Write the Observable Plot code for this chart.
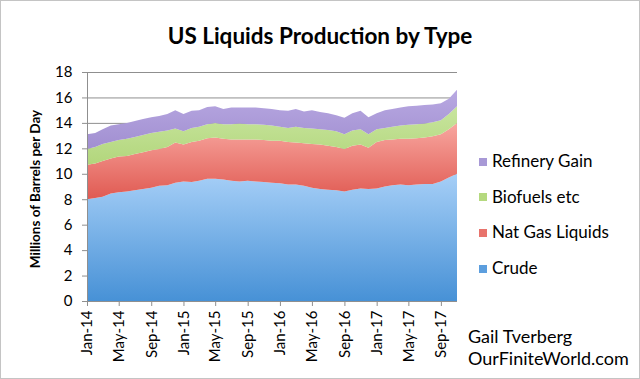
<!DOCTYPE html>
<html><head><meta charset="utf-8">
<script src="https://cdn.jsdelivr.net/npm/d3@7"></script>
<script src="https://cdn.jsdelivr.net/npm/@observablehq/plot@0.6"></script>
<style>
body{margin:0;background:#fff;}
#wrap{position:relative;width:640px;height:379px;font-family:Lato,"Open Sans",sans-serif;color:#000;overflow:hidden;background:#fff}
#frame{position:absolute;left:0;top:0;width:640px;height:379px;box-sizing:border-box;border:1px solid #c4c4c4;pointer-events:none}
#title{height:60px;line-height:60px;text-align:center;font-weight:700;font-size:22.5px;padding-top:6px;box-sizing:border-box}
#plot{position:absolute;left:0;top:60px}
#legend{position:absolute;left:479px;top:150px;font-size:17px}
.li{position:absolute;left:0;white-space:nowrap;height:22px;line-height:22px}
.sw{display:inline-block;width:8px;height:8px;margin-right:5px;vertical-align:middle;position:relative;top:-1px}
#caption{position:absolute;left:468px;top:325px;font-size:18px;line-height:22px;white-space:nowrap}
</style></head><body>
<div id="wrap">
<div id="title">US Liquids Production by Type</div>
<div id="plot"></div>
<div id="legend"></div>
<div id="caption">Gail Tverberg<br>OurFiniteWorld.com</div>
<div id="frame"></div>
</div>
<script>
const months = ["2014-01","2014-02","2014-03","2014-04","2014-05","2014-06","2014-07","2014-08","2014-09","2014-10","2014-11","2014-12",
"2015-01","2015-02","2015-03","2015-04","2015-05","2015-06","2015-07","2015-08","2015-09","2015-10","2015-11","2015-12",
"2016-01","2016-02","2016-03","2016-04","2016-05","2016-06","2016-07","2016-08","2016-09","2016-10","2016-11","2016-12",
"2017-01","2017-02","2017-03","2017-04","2017-05","2017-06","2017-07","2017-08","2017-09","2017-10","2017-11"];

const crude = [8.0,8.1,8.2,8.45,8.55,8.6,8.7,8.8,8.9,9.05,9.1,9.3,
9.4,9.35,9.45,9.6,9.6,9.55,9.45,9.4,9.45,9.4,9.35,9.3,
9.25,9.15,9.15,9.05,8.9,8.8,8.75,8.7,8.6,8.75,8.85,8.8,
8.85,9.0,9.1,9.15,9.1,9.15,9.2,9.2,9.4,9.7,10.0];
const natGasLiquids = [2.7,2.7,2.8,2.75,2.8,2.8,2.85,2.9,2.95,2.9,3.0,3.15,
2.9,3.15,3.15,3.2,3.25,3.2,3.25,3.3,3.25,3.3,3.3,3.3,
3.35,3.35,3.3,3.35,3.45,3.5,3.45,3.4,3.35,3.45,3.45,3.25,
3.65,3.65,3.6,3.6,3.65,3.65,3.65,3.75,3.7,3.8,4.0];
const biofuels = [1.25,1.3,1.35,1.3,1.3,1.35,1.35,1.35,1.35,1.35,1.3,1.1,
1.05,1.1,1.1,1.1,1.15,1.15,1.2,1.25,1.2,1.2,1.2,1.2,
1.1,1.1,1.25,1.2,1.2,1.2,1.25,1.25,1.15,1.2,1.2,1.05,
1.0,0.95,1.0,1.05,1.1,1.1,1.1,1.1,1.1,1.2,1.3];
const refineryGain = [1.15,1.1,1.15,1.3,1.25,1.25,1.25,1.25,1.25,1.25,1.3,1.45,
1.35,1.35,1.3,1.35,1.3,1.2,1.3,1.25,1.3,1.3,1.3,1.3,
1.3,1.35,1.4,1.3,1.45,1.35,1.3,1.25,1.3,1.35,1.45,1.35,
1.25,1.4,1.4,1.4,1.45,1.45,1.45,1.4,1.35,1.2,1.3];

const seriesNames = ["Crude","Nat Gas Liquids","Biofuels etc","Refinery Gain"];
const seriesValues = [crude, natGasLiquids, biofuels, refineryGain];
const tickLabels = ["Jan-14","May-14","Sep-14","Jan-15","May-15","Sep-15","Jan-16","May-16","Sep-16","Jan-17","May-17","Sep-17"];
const tickMonths = ["2014-01","2014-05","2014-09","2015-01","2015-05","2015-09","2016-01","2016-05","2016-09","2017-01","2017-05","2017-09"];
const yTicks = [0,2,4,6,8,10,12,14,16,18];
const yLabel = "Millions of Barrels per Day";

const gradStops = {
  "Crude": ["#a6cff7", "#4791d6"],
  "Nat Gas Liquids": ["#f8a7a0", "#e05a52"],
  "Biofuels etc": ["#c8e59e", "#b2d67c"],
  "Refinery Gain": ["#b9a9e2", "#a18fd1"]
};
const swatch = {"Crude":"#5c9ede","Nat Gas Liquids":"#e8736c","Biofuels etc":"#b5d97f","Refinery Gain":"#a899d6"};

const parse = d3.utcParse("%Y-%m");
const rows = [];
seriesNames.forEach((name, i) => {
  months.forEach((m, j) => rows.push({date: parse(m), type: name, value: seriesValues[i][j]}));
});
const gradIds = seriesNames.map((n, i) => "grad" + i);
const xTickDates = tickMonths.map(parse);
const labelOf = new Map(tickMonths.map((m, i) => [+parse(m), tickLabels[i]]));

const chart = Plot.plot({
  width: 640, height: 319,
  marginLeft: 87, marginRight: 183, marginTop: 12, marginBottom: 78,
  style: {fontFamily: "Lato, 'Open Sans', sans-serif", fontSize: "15px", color: "#000", background: "transparent"},
  x: {type: "utc", domain: [parse(months[0]), parse(months[months.length - 1])]},
  y: {domain: [0, 18]},
  color: {domain: seriesNames, range: gradIds.map(id => `url(#${id})`)},
  marks: [
    Plot.gridY(yTicks, {stroke: "#8f8f8f", strokeOpacity: 1, strokeWidth: 1}),
    Plot.areaY(rows, {x: "date", y: "value", z: "type", fill: "type", order: seriesNames}),
    Plot.ruleY([0], {stroke: "#8f8f8f"}),
    Plot.ruleX([parse(months[0])], {stroke: "#8f8f8f"}),
    Plot.axisY(yTicks, {tickSize: 5, tickPadding: 10, label: null, stroke: "#8f8f8f", fill: "#000", fontSize: 15}),
    Plot.axisX(xTickDates, {tickSize: 5, tickPadding: 4, tickRotate: -90, label: null, stroke: "#8f8f8f", fill: "#000", fontSize: 15,
      tickFormat: d => labelOf.get(+d)})
  ]
});

const svg = d3.select(chart);
const defs = svg.insert("defs", ":first-child");
seriesNames.forEach((name, i) => {
  const g = defs.append("linearGradient").attr("id", gradIds[i]).attr("x1", 0).attr("y1", 0).attr("x2", 0).attr("y2", 1);
  g.append("stop").attr("offset", "0%").attr("stop-color", gradStops[name][0]);
  g.append("stop").attr("offset", "100%").attr("stop-color", gradStops[name][1]);
});
// y-axis title, centred on the plot's vertical extent
svg.append("text")
  .attr("transform", "translate(35,129) rotate(-90)")
  .attr("text-anchor", "middle")
  .attr("dy", "0.35em")
  .attr("fill", "#000")
  .style("font-weight", "700")
  .style("font-size", "13.5px")
  .text(yLabel);
document.getElementById("plot").appendChild(chart);

const legendOrder = ["Refinery Gain","Biofuels etc","Nat Gas Liquids","Crude"];
const legend = d3.select("#legend");
legendOrder.forEach((name, i) => {
  const item = legend.append("div").attr("class", "li").style("top", (i * 35.7) + "px");
  item.append("span").attr("class", "sw").style("background", swatch[name]);
  item.append("span").text(name);
});
</script>
</body></html>
